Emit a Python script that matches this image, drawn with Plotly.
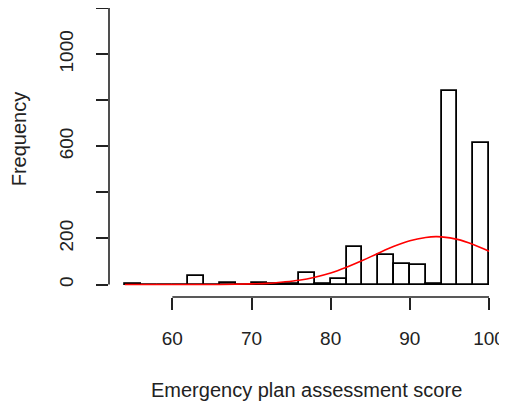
import plotly.graph_objects as go

# Histogram bins (width 2) and counts
bin_starts = [54, 56, 58, 60, 62, 64, 66, 68, 70, 72, 74, 76, 78, 80, 82, 84, 86, 88, 90, 92, 94, 96, 98]
counts = [4, 0, 0, 0, 39, 0, 7, 0, 5, 2, 4, 52, 3, 24, 161, 0, 130, 91, 86, 3, 839, 0, 616]
bin_width = 2

# Fitted density curve (scaled to counts)
curve_x = [54, 60, 66, 70, 72, 74, 76, 78, 80, 82, 84, 86, 88, 90, 92, 93.3, 94, 96, 98, 100]
curve_y = [0, 0, 0.5, 3, 5, 11, 19, 32, 50, 75, 104, 136, 166, 190, 204, 208, 207, 196, 174, 145]

x_ticks = [60, 70, 80, 90, 100]
y_ticks = [0, 200, 400, 600, 800, 1000, 1200]
y_tick_text = ["0", "200", "", "600", "", "1000", ""]

x_title = "Emergency plan assessment score"
y_title = "Frequency"

FONT = "Liberation Sans, Arial, Helvetica, sans-serif"
INK = "#222222"

centers = [s + bin_width / 2 for s in bin_starts]

fig = go.Figure()
fig.add_trace(go.Bar(
    x=centers, y=counts, width=[bin_width] * len(centers),
    marker=dict(color="white", line=dict(color="black", width=1.8)),
    showlegend=False, hoverinfo="skip",
))
fig.add_trace(go.Scatter(
    x=curve_x, y=curve_y, mode="lines", line=dict(color="red", width=1.6, shape="spline"),
    showlegend=False, hoverinfo="skip",
))

# axis lines spanning first to last tick (R style)
fig.add_shape(type="line", xref="x", yref="paper", x0=x_ticks[0], x1=x_ticks[-1], y0=0, y1=0,
              line=dict(color=INK, width=1.6))
fig.add_shape(type="line", xref="paper", yref="y", x0=0, x1=0, y0=y_ticks[0], y1=y_ticks[-1],
              line=dict(color=INK, width=1.6))

fig.add_annotation(text=x_title, xref="paper", yref="paper", x=0.496, y=0, yshift=-92.5,
                   xanchor="center", yanchor="middle", showarrow=False,
                   font=dict(family=FONT, size=20, color=INK))
fig.add_annotation(text=y_title, xref="paper", yref="paper", x=0, xshift=-90.5, y=0.5475,
                   xanchor="center", yanchor="middle", textangle=-90, showarrow=False,
                   font=dict(family=FONT, size=20, color=INK))

fig.update_layout(
    width=499, height=399,
    margin=dict(l=101, r=0, t=0, b=109.5, autoexpand=False),
    plot_bgcolor="white", paper_bgcolor="white",
    font=dict(family=FONT, size=19, color=INK),
    bargap=0,
    xaxis=dict(range=[52.0, 102.27], tickvals=x_ticks, ticks="outside", ticklen=12, tickwidth=1.6,
               tickcolor=INK, showgrid=False, zeroline=False, showline=False,
               ticklabelstandoff=12, automargin=False),
    yaxis=dict(range=[-54, 1200.3], tickvals=y_ticks, ticktext=y_tick_text, ticks="outside",
               ticklen=12, tickwidth=1.6, tickcolor=INK, showgrid=False, zeroline=False,
               showline=False, tickangle=-90, ticklabelstandoff=15, automargin=False),
)

fig.write_html("out.html")
